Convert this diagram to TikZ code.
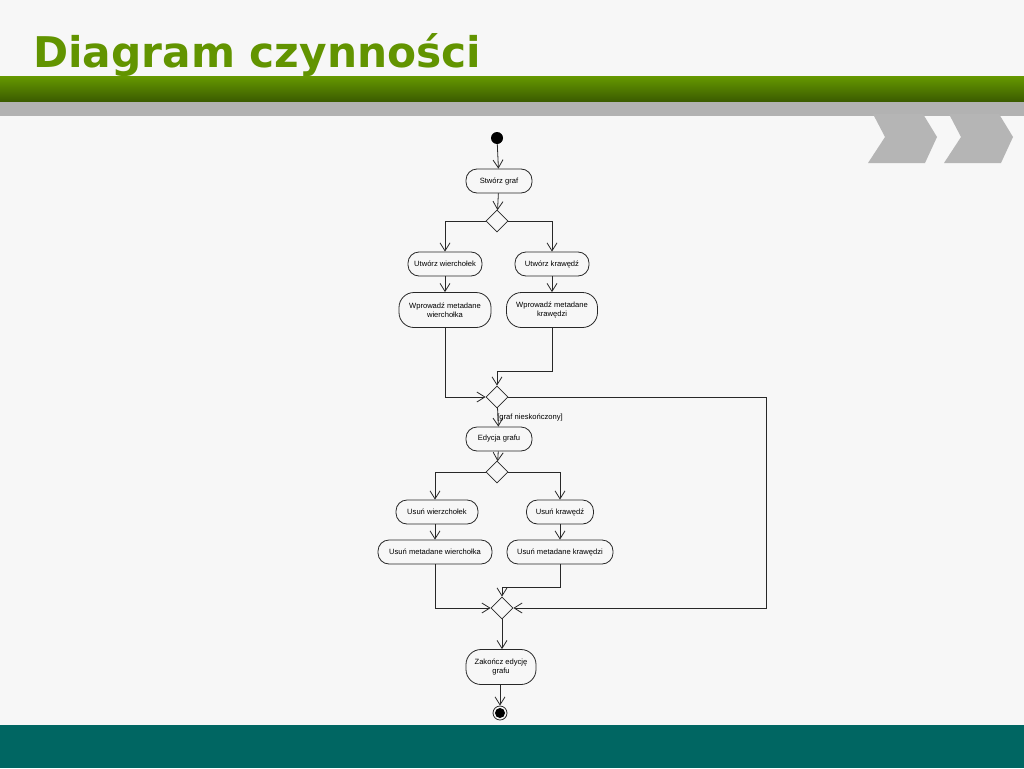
\documentclass[tikz,border=0pt]{standalone}
\usepackage{fontspec}
\setmainfont{Liberation Sans}
\newfontfamily\titlefont{DejaVu Sans}
\usepackage{tikz}
\usetikzlibrary{arrows.meta}
\usetikzlibrary{shapes.geometric}

\definecolor{bgcol}{RGB}{247,247,247}
\definecolor{titlegreen}{RGB}{98,148,0}
\definecolor{bartop}{RGB}{102,153,0}
\definecolor{barbot}{RGB}{58,90,0}
\definecolor{bargray}{RGB}{178,178,178}
\definecolor{chevgray}{RGB}{181,181,181}
\definecolor{footteal}{RGB}{0,102,98}
\definecolor{linecol}{RGB}{40,40,40}

\begin{document}
\begin{tikzpicture}[x=1pt, y=-1pt]
		\tikzset{act/.style={draw=linecol, line width=0.8pt, rectangle, rounded corners=11pt, minimum height=24pt, inner sep=1pt, align=center, font=\fontsize{7.6}{9.5}\selectfont}}
		\tikzset{bigact/.style={act, minimum height=35pt, rounded corners=15pt}}
		\tikzset{dec/.style={draw=linecol, line width=0.8pt, diamond, minimum size=22pt, inner sep=0pt}}
		\tikzset{edge/.style={draw=linecol, line width=0.8pt, -{Straight Barb[length=8pt, width=10pt]}}}
		\useasboundingbox (0,0) rectangle (1024,768);
					%background
					\fill[bgcol] (0,0) rectangle (1024,768);
					\shade[top color=bartop, middle color=bartop!85!barbot, bottom color=barbot] (0,76) rectangle (1024,102);
					\fill[bargray] (0,102) rectangle (1024,116);
					\foreach \dx in {0,76}
						\fill[chevgray, xshift=\dx] (873,114) -- (923,114) -- (937,137) -- (925,163) -- (868,163) -- (885,137) -- cycle;
					\fill[footteal] (0,725) rectangle (1024,768);
					\node[anchor=base west, inner sep=0pt, text=titlegreen, font=\titlefont\bfseries\fontsize{42.3}{50}\selectfont] (title) at (33,67) {Diagram czynności};
					%vertices
					\node[circle, fill=black, minimum size=12pt, inner sep=0pt] (start) at (497,138) {};
					\node[act, minimum width=66pt] (s) at (499,181) {Stwórz graf};
					\node[dec] (d1) at (497,221) {};
					\node[act, minimum width=74pt] (a1) at (445,264) {Utwórz wierchołek};
					\node[act, minimum width=74pt] (a2) at (552,264) {Utwórz krawędź};
					\node[bigact, minimum width=92pt] (m1) at (445,310) {Wprowadź metadane\\wierchołka};
					\node[bigact, minimum width=91pt] (m2) at (552,310) {Wprowadź metadane\\krawędzi};
					\node[dec] (d2) at (497,397) {};
					\node[act, minimum width=66pt] (e) at (499,439) {Edycja grafu};
					\node[dec] (d3) at (497,472) {};
					\node[act, minimum width=82pt] (u1) at (437,512) {Usuń wierzchołek};
					\node[act, minimum width=67pt] (u2) at (560,512) {Usuń krawędź};
					\node[act, minimum width=114pt] (n1) at (435,552) {Usuń metadane wierchołka};
					\node[act, minimum width=106pt] (n2) at (560,552) {Usuń metadane krawędzi};
					\node[dec] (d4) at (502,608) {};
					\node[bigact, minimum width=70pt] (z) at (501,667) {Zakończ edycję\\grafu};
					\node[circle, draw=linecol, line width=0.8pt, minimum size=14pt, inner sep=0pt] (end) at (500,713) {};
					\fill[black] (end.center) circle (5pt);
					\coordinate (j1) at (497,371);
					\coordinate (j2) at (502,587);
					\coordinate (r) at (766,608);
					%edges
					\draw[edge] (start) -- (s);
					\draw[edge] (s) -- (d1);
					\draw[edge] (d1.west) -| (a1.north);
					\draw[edge] (d1.east) -| (a2.north);
					\draw[edge] (a1) -- (m1);
					\draw[edge] (a2) -- (m2);
					\draw[edge] (m1.south) |- (d2.west);
					\draw[edge] (m2.south) |- (j1) -- (d2.north);
					\draw[edge] (d2.east) -| (r) -- (d4.east);
					\draw[edge] (d2) -- (e) node[midway, right, xshift=-2pt, inner sep=1pt, font=\fontsize{7.6}{9.5}\selectfont]{[graf nieskończony]};
					\draw[edge] (e) -- (d3);
					\draw[edge] (d3.west) -| (u1.north -| n1.north);
					\draw[edge] (d3.east) -| (u2.north);
					\draw[edge] (u1.south -| n1.north) -- (n1.north);
					\draw[edge] (u2) -- (n2);
					\draw[edge] (n1.south) |- (d4.west);
					\draw[edge] (n2.south) |- (j2) -- (d4.north);
					\draw[edge] (d4) -- (z.north -| d4);
					\draw[edge] (z.south -| end) -- (end);
					
					\end{tikzpicture}
\end{document}
